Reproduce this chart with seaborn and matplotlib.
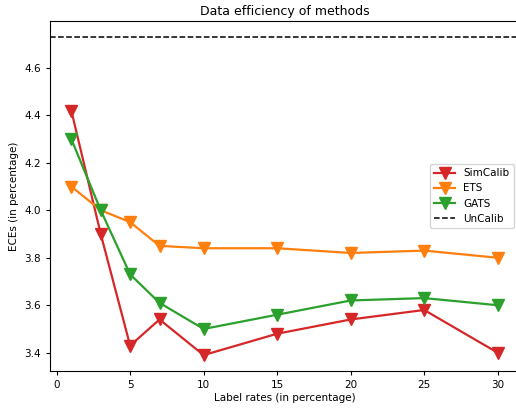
import matplotlib
matplotlib.use("Agg")
import matplotlib.pyplot as plt
import seaborn as sns
import pandas as pd

label_rates = [1, 3, 5, 7, 10, 15, 20, 25, 30]
simcalib = [4.42, 3.90, 3.43, 3.54, 3.39, 3.48, 3.54, 3.58, 3.40]
ets = [4.10, 4.00, 3.95, 3.85, 3.84, 3.84, 3.82, 3.83, 3.80]
gats = [4.30, 4.00, 3.73, 3.61, 3.50, 3.56, 3.62, 3.63, 3.60]
uncalib = 4.73

series = [("SimCalib", simcalib, "#d62728"), ("ETS", ets, "#ff7f0e"), ("GATS", gats, "#2ca02c")]

fig = plt.figure(figsize=(5.16, 4.08), dpi=100)
ax = fig.add_axes([50/516, 37/408, 469/516, 350/408])

for name, vals, col in series:
    df = pd.DataFrame({"x": label_rates, "y": vals})
    sns.lineplot(data=df, x="x", y="y", ax=ax, color=col, marker="v", markersize=8,
                 linewidth=1.6, markeredgecolor=col, markeredgewidth=1, label=name)
ax.axhline(uncalib, color="black", linestyle="--", linewidth=1.1, label="UnCalib")

ax.set_xlim(-0.45, 31.45)
ax.set_ylim(3.323, 4.797)
ax.set_xticks([0, 5, 10, 15, 20, 25, 30])
ax.set_yticks([3.4, 3.6, 3.8, 4.0, 4.2, 4.4, 4.6])
ax.tick_params(labelsize=7.5, length=3)
ax.set_xlabel("Label rates (in percentage)", fontsize=7.5, labelpad=2)
ax.set_ylabel("ECEs (in percentage)", fontsize=7.5, labelpad=4)
ax.set_title("Data efficiency of methods", fontsize=9, pad=4)
ax.legend(loc="center right", fontsize=7.5)

fig.savefig("out.png", dpi=100)
